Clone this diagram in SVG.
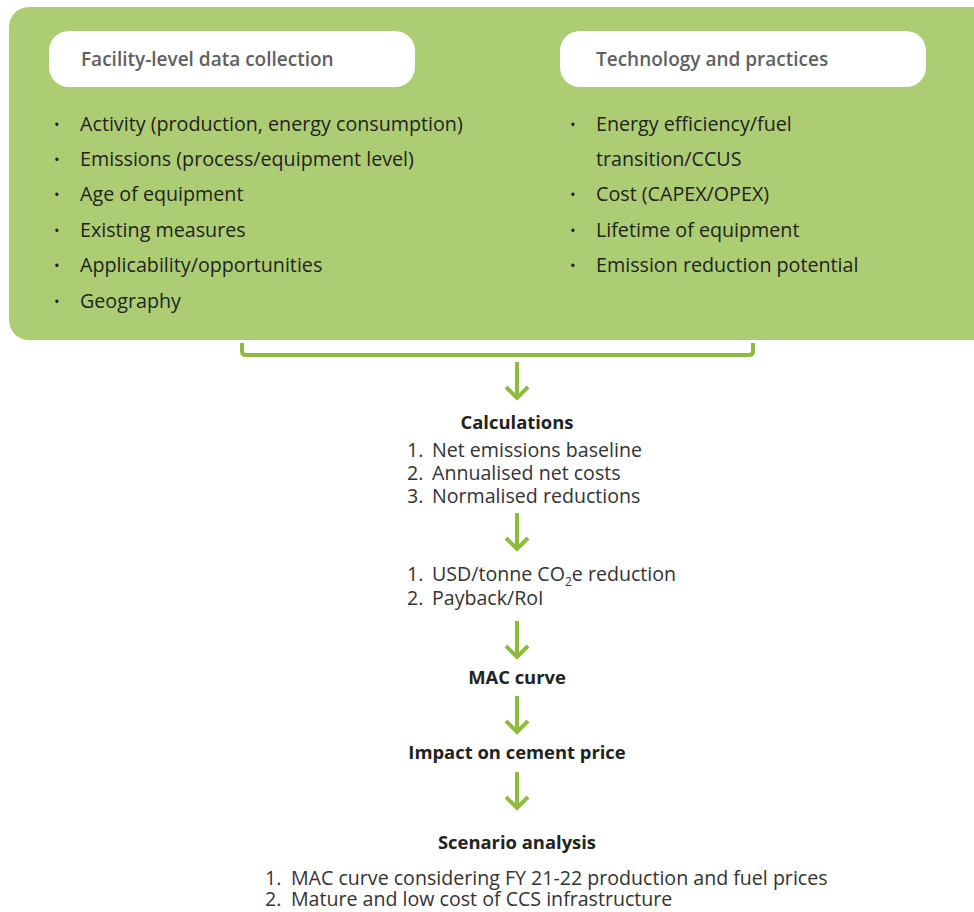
<svg xmlns="http://www.w3.org/2000/svg" width="974" height="912" viewBox="0 0 974 912">
<defs>
<style>
.bg{fill:#adcd75}
.hdr{fill:#ffffff}
.ht{font-family:"Open Sans","Liberation Sans",sans-serif;font-weight:600;font-size:19px;fill:#5f5f5f}
.b{font-family:"Open Sans","Liberation Sans",sans-serif;font-size:19.7px;fill:#222222}
.dot{font-family:"Open Sans","Liberation Sans",sans-serif;font-size:15px;fill:#222222}
.t{font-family:"Open Sans","Liberation Sans",sans-serif;font-size:19.6px;fill:#333333}
.tb{font-family:"Open Sans","Liberation Sans",sans-serif;font-weight:700;font-size:18.4px;fill:#222222}
.con{fill:none;stroke:#8dbb3e;stroke-width:4;stroke-linecap:butt}
</style>
<g id="arrow">
<line x1="0" y1="0" x2="0" y2="37" class="con"/>
<polyline points="-11,25 0,36 11,25" class="con"/>
</g>
</defs>
<g id="panel">
<rect x="9" y="7" width="985" height="333" rx="20" class="bg"/>
</g>
<g id="facility">
<rect x="49" y="31" width="366" height="56" rx="20" class="hdr"/>
<text x="81" y="66" class="ht">Facility-level data collection</text>
<g class="dot">
<text x="54" y="130">•</text><text x="54" y="165">•</text><text x="54" y="200">•</text><text x="54" y="236">•</text><text x="54" y="271">•</text><text x="54" y="307">•</text>
</g>
<g class="b">
<text x="80" y="131">Activity (production, energy consumption)</text>
<text x="80" y="166">Emissions (process/equipment level)</text>
<text x="80" y="201">Age of equipment</text>
<text x="80" y="237">Existing measures</text>
<text x="80" y="272">Applicability/opportunities</text>
<text x="80" y="308">Geography</text>
</g>
</g>
<g id="technology">
<rect x="560" y="31" width="366" height="56" rx="20" class="hdr"/>
<text x="596" y="66" class="ht">Technology and practices</text>
<g class="dot">
<text x="570" y="130">•</text><text x="570" y="200">•</text><text x="570" y="236">•</text><text x="570" y="271">•</text>
</g>
<g class="b">
<text x="596" y="131">Energy efficiency/fuel</text>
<text x="596" y="166">transition/CCUS</text>
<text x="596" y="201">Cost (CAPEX/OPEX)</text>
<text x="596" y="237">Lifetime of equipment</text>
<text x="596" y="272">Emission reduction potential</text>
</g>
</g>
<g id="connectors">
<path d="M242,343 V351 Q242,355 246,355 H749 Q753,355 753,351 V343" class="con"/>
<use href="#arrow" x="517" y="362"/>
<use href="#arrow" x="517" y="513"/>
<use href="#arrow" x="517" y="621"/>
<use href="#arrow" x="517" y="696"/>
<use href="#arrow" x="517" y="772"/>
</g>
<g id="calculations">
<text x="517" y="429" text-anchor="middle" class="tb">Calculations</text>
<g class="t">
<text x="407" y="457">1.</text><text x="432" y="457">Net emissions baseline</text>
<text x="407" y="480">2.</text><text x="432" y="480">Annualised net costs</text>
<text x="407" y="503">3.</text><text x="432" y="503">Normalised reductions</text>
</g>
</g>
<g id="metrics">
<g class="t">
<text x="407" y="581">1.</text><text x="432" y="581">USD/tonne CO<tspan dy="5" font-size="12">2</tspan><tspan dy="-5">e reduction</tspan></text>
<text x="407" y="605">2.</text><text x="432" y="605">Payback/RoI</text>
</g>
</g>
<g id="mac">
<text x="517" y="684" text-anchor="middle" class="tb">MAC curve</text>
</g>
<g id="impact">
<text x="517" y="759" text-anchor="middle" class="tb">Impact on cement price</text>
</g>
<g id="scenario">
<text x="517" y="849" text-anchor="middle" class="tb">Scenario analysis</text>
<g class="t">
<text x="265" y="885">1.</text><text x="291" y="885">MAC curve considering FY 21-22 production and fuel prices</text>
<text x="265" y="906">2.</text><text x="291" y="906">Mature and low cost of CCS infrastructure</text>
</g>
</g>
</svg>
